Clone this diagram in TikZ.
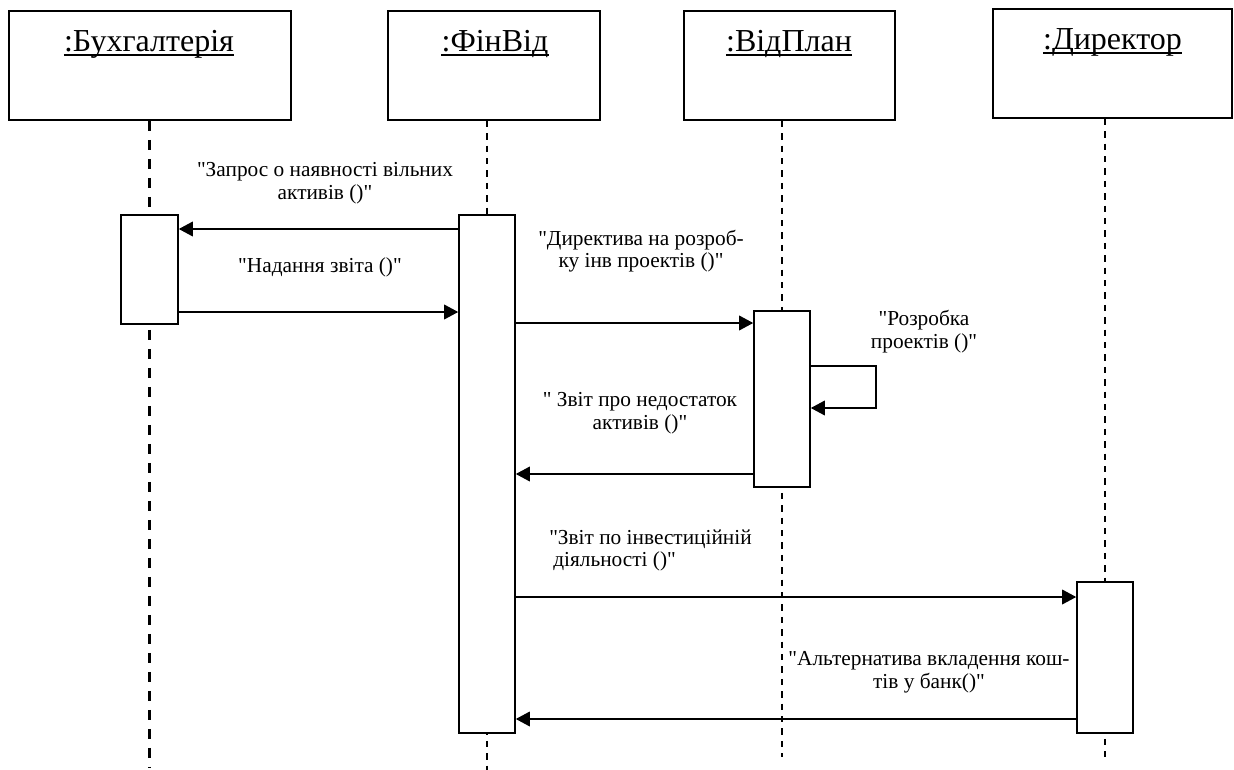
\documentclass[tikz,border=0pt]{standalone}
\usepackage{fontspec}
\setmainfont{Liberation Serif}[Ligatures=TeXOff]
\usetikzlibrary{arrows.meta}
\begin{document}
\begin{tikzpicture}[x=0.75pt,y=-0.75pt,
  objbox/.style={draw,line width=1.3pt,inner sep=0pt,minimum height=81.75pt},
  actbox/.style={draw,fill=white,line width=1.2pt,inner sep=0pt,minimum width=42pt},
  objtitle/.style={inner sep=0pt,anchor=base,font=\fontsize{24}{27}\selectfont},
  lbl/.style={inner sep=0pt,align=center,font=\fontsize{16}{17}\selectfont},
  life/.style={dash pattern=on 4.8pt off 4.5pt,line width=0.9pt},
  lifethick/.style={dash pattern=on 7.5pt off 6.75pt,line width=1.8pt},
  msg/.style={line width=1pt,-{Triangle[length=10.5pt,width=11pt]}},
  uline/.style={line width=0.9pt},
]
\useasboundingbox (0,0) rectangle (1234,770);

% object headers
\node[objbox,minimum width=211.5pt] (bb) at (150,65.5) {};
\node[objbox,minimum width=159pt] (fb) at (494,65.5) {};
\node[objbox,minimum width=158.25pt] (pb) at (789.5,65.5) {};
\node[objbox,minimum width=179.25pt] (db) at (1112.5,63.5) {};

\node[objtitle] (bt) at (149,52) {:Бухгалтерія};
\node[objtitle] (ft) at (495,52) {:ФінВід};
\node[objtitle] (pt) at (789,52) {:ВідПлан};
\node[objtitle] (dt) at (1112.5,50) {:Директор};
\foreach \t in {bt,ft,pt,dt}
  \draw[uline] ([yshift=-2.2pt]\t.base west) -- ([yshift=-2.2pt]\t.base east);

% lifeline ends and activation centres
\coordinate (bend) at (149.5,768);
\coordinate (fend) at (487,770);
\coordinate (pend) at (782,757);
\coordinate (dend) at (1105,757);

\path (149.5,269.5) coordinate (bac) (487,474) coordinate (fac)
      (782,399) coordinate (pac) (1105,657.5) coordinate (dac);

% lifelines
\draw[lifethick] (bend |- bb.south) -- (bend);
\draw[life] (fend |- fb.south) -- (fend);
\draw[life] (pend |- pb.south) -- (pend);
\draw[life] (dend |- db.south) -- (dend);

% activation bars
\node[actbox,minimum width=42.75pt,minimum height=81.75pt] (ba) at (bac) {};
\node[actbox,minimum height=388.5pt] (fa) at (fac) {};
\node[actbox,minimum height=132pt] (pa) at (pac) {};
\node[actbox,minimum height=113.25pt] (da) at (dac) {};

% message levels
\coordinate (m1) at (0,229);
\coordinate (m2) at (0,312);
\coordinate (m3) at (0,323);
\coordinate (s1) at (876,366);
\coordinate (s2) at (876,408);
\coordinate (m5) at (0,474);
\coordinate (m6) at (0,597);
\coordinate (m7) at (0,719);

\draw[msg] (fa.west |- m1) -- (ba.east |- m1);
\draw[msg] (ba.east |- m2) -- (fa.west |- m2);
\draw[msg] (fa.east |- m3) -- (pa.west |- m3);
\draw[msg] (pa.east |- s1) -- (s1) -- (s2) -- (pa.east |- s2);
\draw[msg] (pa.west |- m5) -- (fa.east |- m5);
\draw[msg] (fa.east |- m6) -- (da.west |- m6);
\draw[msg] (da.west |- m7) -- (fa.east |- m7);

% message labels
\node[lbl] (l1) at (325,183.5) {"Запрос о наявності вільних\\активів ()"};
\node[lbl,anchor=base] (l2) at (320,272) {"Надання звіта ()"};
\node[lbl] (l3) at (641,251) {"Директива на розроб-\\ку інв проектів ()"};
\node[lbl] (l4) at (924,331.5) {"Розробка\\проектів ()"};
\node[lbl] (l5) at (640,413.5) {"\ Звіт про недостаток\\активів ()"};
\node[lbl,align=left,anchor=west] (l6) at (549,550.5) {"Звіт по інвестиційній\\\hspace{3pt}діяльності ()"};
\node[lbl] (l7) at (929,672.5) {"Альтернатива вкладення кош-\\тів у банк()"};
\end{tikzpicture}
\end{document}
